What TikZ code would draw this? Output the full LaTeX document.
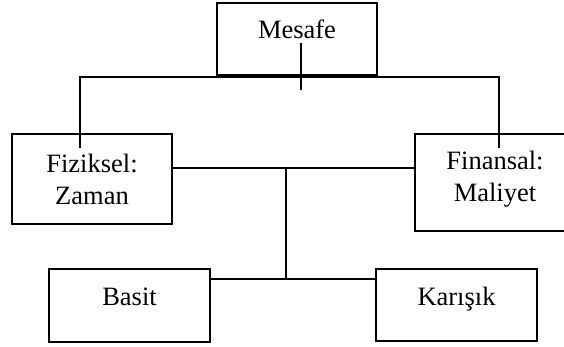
\documentclass[tikz,border=0pt]{standalone}
\usepackage{fontspec}
\setmainfont{Liberation Serif}
\begin{document}
\begin{tikzpicture}[x=1pt,y=-1pt,
  box/.style={draw,line width=2pt,rectangle,inner sep=0pt,outer sep=0pt,
    minimum width=160pt,align=center,font=\fontsize{26.5}{32}\selectfont},
  onel/.style={text height=18pt,text depth=18pt},
  conn/.style={line width=1.6pt}]
\useasboundingbox (0,0) rectangle (564,347);
\node[box,onel,minimum height=72pt] (mes) at (297,39) {Mesafe};
\node[box,minimum height=90pt] (fiz) at (92,179) {Fiziksel:\\Zaman};
\node[box,minimum height=97pt,text depth=12pt] (fin) at (495,182.5) {Finansal:\\Maliyet};
\node[box,onel,minimum width=161pt,minimum height=73pt] (bas) at (129.5,305.5) {Basit};
\node[box,onel,minimum width=161pt,minimum height=72pt] (kar) at (456.5,305) {Karışık};
\coordinate (mtop) at (301,43);
\coordinate (mbot) at (301,90);
\coordinate (hl) at (80,77);
\coordinate (hr) at (499,77);
\coordinate (fizin) at (80,148);
\coordinate (finin) at (499,148);
\coordinate (mid) at (286,168);
\coordinate (midb) at (286,279);
\draw[conn] (mtop) -- (mbot);
\draw[conn] (fizin) -- (hl) -- (hr) -- (finin);
\draw[conn] (fiz.east |- mid) -- (fin.west |- mid);
\draw[conn] (mid) -- (midb);
\draw[conn] (bas.east |- midb) -- (kar.west |- midb);
\end{tikzpicture}
\end{document}
